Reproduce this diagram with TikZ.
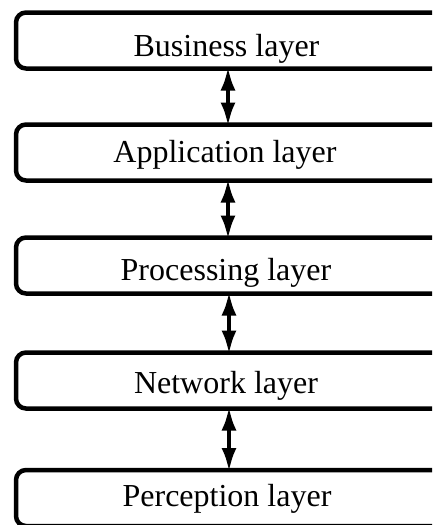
\documentclass[tikz,border=0pt]{standalone}
\usepackage{fontspec}
\setmainfont{Liberation Serif}
\usetikzlibrary{arrows.meta}
\begin{document}
\begin{tikzpicture}[x=1pt,y=-1pt,
  layerbox/.style={draw=black, line width=4.5pt, rounded corners=10pt,
    minimum width=440pt, minimum height=56pt, inner sep=0pt, outer sep=0pt, fill=white},
  layertext/.style={anchor=base, inner sep=0pt, font=\fontsize{32}{36}\selectfont},
  biarrow/.style={line width=4.5pt, shorten <=-2pt, shorten >=-2pt,
    {Latex[length=24pt,width=15pt]}-{Latex[length=24pt,width=15pt]}}]
\useasboundingbox (0,0) rectangle (432,525);
\clip (0,0) rectangle (432,525);
\node[layerbox] (b1) at (236,40.5) {};
\node[layerbox] (b2) at (236,152.5) {};
\node[layerbox] (b3) at (236,265.5) {};
\node[layerbox] (b4) at (236,380.5) {};
\node[layerbox] (b5) at (236,498) {};
\node[layertext] (t1) at (226.5,56) {Business layer};
\node[layertext] (t2) at (225,162) {Application layer};
\node[layertext] (t3) at (226,280) {Processing layer};
\node[layertext] (t4) at (226,393) {Network layer};
\node[layertext] (t5) at (227,506) {Perception layer};
\draw[biarrow] ([xshift=-8pt]b1.south) -- ([xshift=-8pt]b2.north);
\draw[biarrow] ([xshift=-8pt]b2.south) -- ([xshift=-8pt]b3.north);
\draw[biarrow] ([xshift=-7pt]b3.south) -- ([xshift=-7pt]b4.north);
\draw[biarrow] ([xshift=-7pt]b4.south) -- ([xshift=-7pt]b5.north);
\end{tikzpicture}
\end{document}
